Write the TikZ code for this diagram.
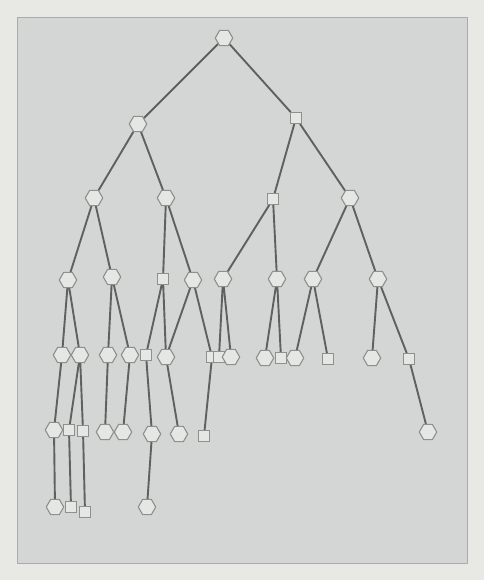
\documentclass[tikz,border=0pt]{standalone}
\usetikzlibrary{shapes.geometric,backgrounds}
\definecolor{frame}{HTML}{E8E9E5}
\definecolor{panel}{HTML}{D3D6D4}
\definecolor{panelline}{HTML}{A9ACAA}
\definecolor{edgecol}{HTML}{5F6160}
\definecolor{nodefill}{HTML}{E5E7E5}
\definecolor{nodeline}{HTML}{8E908E}
\tikzset{
  hexnode/.style={regular polygon, regular polygon sides=6, minimum size=17.5pt,
    inner sep=0pt, fill=nodefill, draw=nodeline, line width=1.1pt},
  sqnode/.style={rectangle, minimum size=11pt, inner sep=0pt,
    fill=nodefill, draw=nodeline, line width=1.1pt},
  link/.style={draw=edgecol, line width=1.9pt, line cap=round}
}
\begin{document}
\begin{tikzpicture}[x=1pt,y=-1pt]
\begin{scope}[on background layer]
\fill[frame] (0,0) rectangle (484,580);
\draw[panelline, line width=0.6pt, fill=panel] (17,17) rectangle (467,563);
\end{scope}
\useasboundingbox (0,0) rectangle (484,580);
% level 0-3
\node[hexnode] (r) at (224,38) {};
\node[hexnode] (a) at (138,124) {};
\node[sqnode] (b) at (296,118) {};
\node[hexnode] (a1) at (94,198) {};
\node[hexnode] (a2) at (166,198) {};
\node[sqnode] (b1) at (273,199) {};
\node[hexnode] (b2) at (350,198) {};
\node[hexnode] (a11) at (68,280) {};
\node[hexnode] (a12) at (112,277) {};
\node[sqnode] (a21) at (163,279) {};
\node[hexnode] (a22) at (193,280) {};
\node[hexnode] (b11) at (223,279) {};
\node[hexnode] (b12) at (277,279) {};
\node[hexnode] (b21) at (313,279) {};
\node[hexnode] (b22) at (378,279) {};
% level 4
\node[hexnode] (c1) at (62,355) {};
\node[hexnode] (c2) at (80,355) {};
\node[hexnode] (c3) at (108,355) {};
\node[hexnode] (c4) at (130,355) {};
\node[sqnode] (c5) at (146,355) {};
\node[hexnode] (c6) at (166,357) {};
\node[sqnode] (c7) at (212,357) {};
\node[sqnode] (c8) at (219,357) {};
\node[hexnode] (c9) at (231,357) {};
\node[hexnode] (c10) at (265,358) {};
\node[sqnode] (c11) at (281,358) {};
\node[hexnode] (c12) at (295,358) {};
\node[sqnode] (c13) at (328,359) {};
\node[hexnode] (c14) at (372,358) {};
\node[sqnode] (c15) at (409,359) {};
% level 5
\node[hexnode] (d1) at (54,430) {};
\node[sqnode] (d2) at (69,430) {};
\node[sqnode] (d3) at (83,431) {};
\node[hexnode] (d4) at (105,432) {};
\node[hexnode] (d5) at (123,432) {};
\node[hexnode] (d6) at (152,434) {};
\node[hexnode] (d7) at (179,434) {};
\node[sqnode] (d8) at (204,436) {};
\node[hexnode] (d9) at (428,432) {};
% level 6
\node[hexnode] (e1) at (55,507) {};
\node[sqnode] (e2) at (71,507) {};
\node[sqnode] (e3) at (85,512) {};
\node[hexnode] (e4) at (147,507) {};
\begin{scope}[on background layer]
\path[link] (r) -- (a) (r) -- (b)
  (a) -- (a1) (a) -- (a2) (b) -- (b1) (b) -- (b2)
  (a1) -- (a11) (a1) -- (a12) (a2) -- (a21) (a2) -- (a22)
  (b1) -- (b11) (b1) -- (b12) (b2) -- (b21) (b2) -- (b22)
  (a11) -- (c1) (a11) -- (c2) (a12) -- (c3) (a12) -- (c4)
  (a21) -- (c5) (a21) -- (c6) (a22) -- (c6) (a22) -- (c7)
  (b11) -- (c8) (b11) -- (c9) (b12) -- (c10) (b12) -- (c11)
  (b21) -- (c12) (b21) -- (c13) (b22) -- (c14) (b22) -- (c15)
  (c1) -- (d1) (c2) -- (d2) (c2) -- (d3) (c3) -- (d4) (c4) -- (d5)
  (c5) -- (d6) (c6) -- (d7) (c7) -- (d8) (c15) -- (d9)
  (d1) -- (e1) (d2) -- (e2) (d3) -- (e3) (d6) -- (e4);
\end{scope}
\end{tikzpicture}
\end{document}
